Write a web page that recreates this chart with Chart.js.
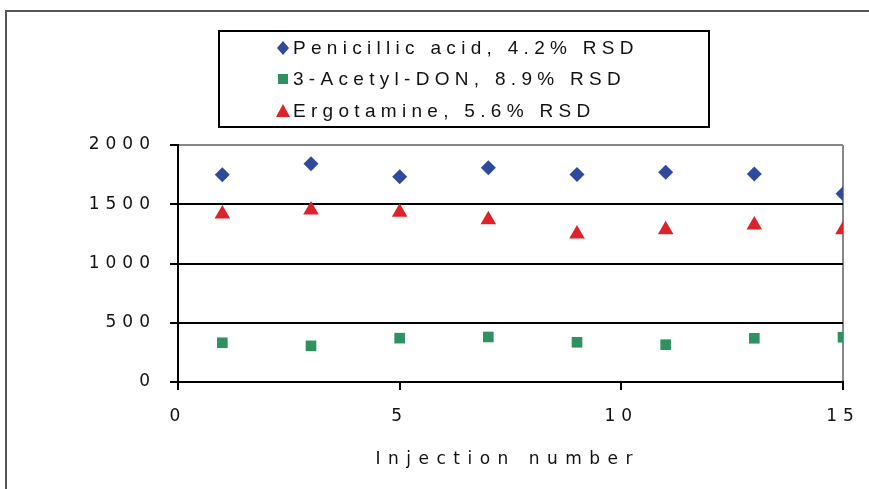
<!DOCTYPE html>
<html>
<head>
<meta charset="utf-8">
<script src="https://cdn.jsdelivr.net/npm/chart.js@4/dist/chart.umd.min.js"></script>
<style>
html,body{margin:0;padding:0;background:#fff;}
#wrap{width:869px;height:489px;position:relative;}
</style>
</head>
<body>
<div id="wrap"><canvas id="c" width="869" height="489"></canvas></div>
<script>
const injections = [1, 3, 5, 7, 9, 11, 13, 15];
const penicillicAcid = [1750, 1841, 1733, 1809, 1751, 1771, 1755, 1589];
const acetylDON = [331, 305, 370, 380, 335, 315, 369, 378];
const ergotamine = [1418, 1452, 1432, 1370, 1249, 1284, 1325, 1284];
const seriesLabels = ['Penicillic acid, 4.2% RSD', '3-Acetyl-DON, 8.9% RSD', 'Ergotamine, 5.6% RSD'];
const xTitle = 'Injection number';
const xTicks = [0, 5, 10, 15];
const yTicks = [0, 500, 1000, 1500, 2000];

const toPts = arr => arr.map((v, i) => ({x: injections[i], y: v}));
const TICK_FONT = "'DejaVu Sans', Verdana, sans-serif";

const framePlugin = {
  id: 'frame',
  beforeDraw(chart) {
    const ctx = chart.ctx;
    ctx.save();
    ctx.fillStyle = '#fff';
    ctx.fillRect(0, 0, chart.width, chart.height);
    ctx.strokeStyle = '#555';
    ctx.lineWidth = 2;
    ctx.strokeRect(6, 11, 1000, 1000);
    ctx.restore();
    ctx.letterSpacing = '6px';
  },
  beforeLayout(chart) { chart.ctx.letterSpacing = '6px'; },
  afterDraw(chart) {
    const ctx = chart.ctx;
    ctx.save();
    // axis title
    ctx.font = "17px 'DejaVu Sans', Verdana, sans-serif";
    ctx.fillStyle = '#111';
    ctx.textAlign = 'left';
    ctx.textBaseline = 'middle';
    ctx.letterSpacing = '7.5px';
    const tw = ctx.measureText(xTitle).width - 7.5;
    ctx.fillText(xTitle, 504 - tw / 2, 460);
    // legend
    ctx.letterSpacing = '0px';
    ctx.strokeStyle = '#000';
    ctx.lineWidth = 2;
    ctx.strokeRect(219, 31, 490, 96);
    const rows = [48, 79, 111];
    ctx.font = "19px 'Liberation Sans', Arial, sans-serif";
    chart.data.datasets.forEach((ds, i) => {
      const y = rows[i];
      const x = 283;
      ctx.fillStyle = ds.backgroundColor;
      ctx.beginPath();
      if (ds.pointStyle === 'rectRot') {
        ctx.moveTo(x - 6, y); ctx.lineTo(x, y - 7); ctx.lineTo(x + 6, y); ctx.lineTo(x, y + 7);
      } else if (ds.pointStyle === 'rect') {
        ctx.rect(x - 5, y - 5, 10, 10);
      } else {
        ctx.moveTo(x - 7, y + 6); ctx.lineTo(x, y - 7); ctx.lineTo(x + 7, y + 6);
      }
      ctx.closePath();
      ctx.fill();
      ctx.fillStyle = '#111';
      ctx.letterSpacing = '5.3px';
      ctx.fillText(ds.label, 293, y + 1);
      ctx.letterSpacing = '0px';
    });
    ctx.restore();
  }
};

new Chart(document.getElementById('c'), {
  type: 'scatter',
  data: {
    datasets: [
      {label: seriesLabels[0], data: toPts(penicillicAcid), pointStyle: 'rectRot', pointRadius: 7.5, backgroundColor: '#2F4A9C', borderColor: '#2F4A9C', borderWidth: 0},
      {label: seriesLabels[1], data: toPts(acetylDON), pointStyle: 'rect', pointRadius: 7.5, backgroundColor: '#2E9160', borderColor: '#2E9160', borderWidth: 0},
      {label: seriesLabels[2], data: toPts(ergotamine), pointStyle: 'triangle', pointRadius: 9, backgroundColor: '#DD2229', borderColor: '#DD2229', borderWidth: 0}
    ]
  },
  options: {
    responsive: false,
    animation: false,
    devicePixelRatio: 1,
    layout: {padding: {top: 145, right: 26, left: 0, bottom: 0}},
    plugins: {legend: {display: false}, tooltip: {enabled: false}},
    scales: {
      x: {
        type: 'linear', min: 0, max: 15,
        afterBuildTicks: s => { s.ticks = xTicks.map(v => ({value: v})); },
        afterFit: s => { s.height = 107; s.paddingRight = 0; s.paddingLeft = 0; },
        ticks: {color: '#111', font: {family: TICK_FONT, size: 17}, padding: 16, maxRotation: 0, callback: v => String(v)},
        grid: {color: c => c.tick && c.tick.value === 15 ? '#888' : 'rgba(0,0,0,0)', lineWidth: 2, tickColor: '#000', tickLength: 8, drawOnChartArea: true},
        border: {color: '#000', width: 2},
        title: {display: false}
      },
      y: {
        type: 'linear', min: 0, max: 2000,
        afterBuildTicks: s => { s.ticks = yTicks.map(v => ({value: v})); },
        afterFit: s => { s.width = 178; },
        ticks: {color: '#111', font: {family: TICK_FONT, size: 17}, padding: 14, callback: v => String(v)},
        grid: {color: c => c.tick && c.tick.value === 2000 ? '#888' : '#000', lineWidth: 2, tickColor: '#000', tickLength: 8},
        border: {color: '#000', width: 2}
      }
    }
  },
  plugins: [framePlugin]
});
</script>
</body>
</html>
